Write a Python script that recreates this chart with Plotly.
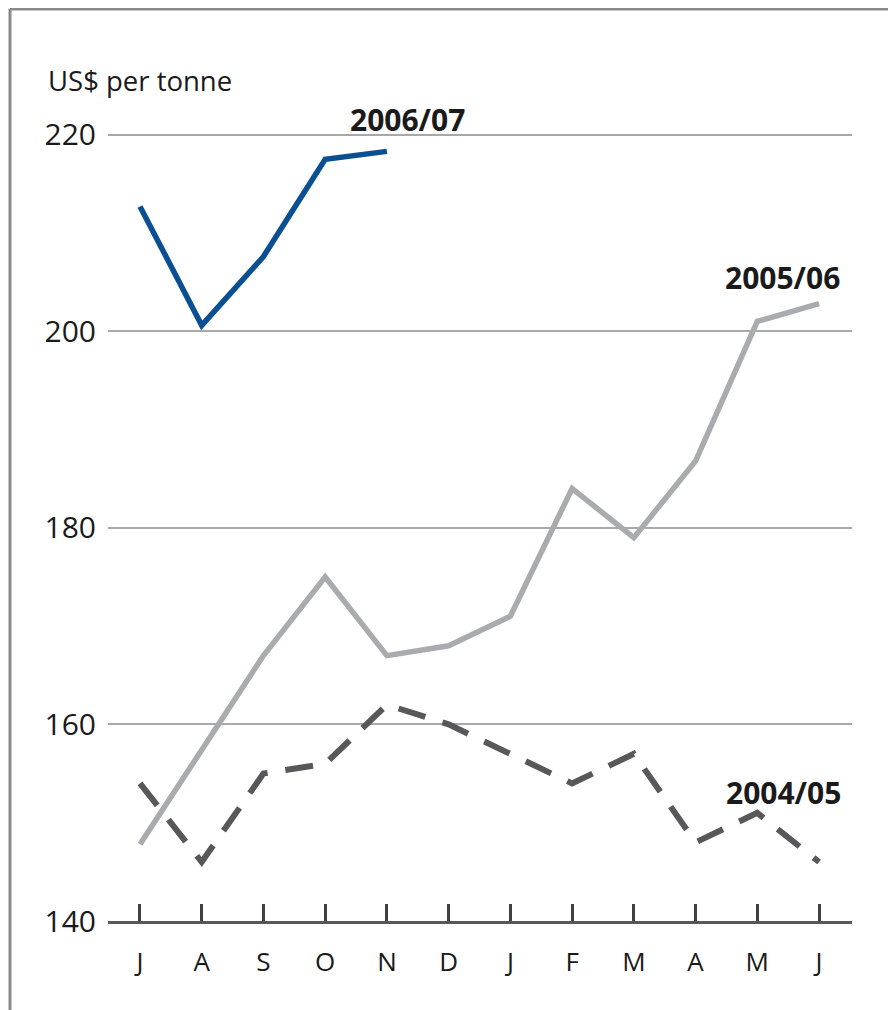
import plotly.graph_objects as go

months = ["J", "A", "S", "O", "N", "D", "J", "F", "M", "A", "M", "J"]
x_idx = list(range(len(months)))

s_2006_07 = [212.7, 200.6, 207.6, 217.5, 218.3]
s_2005_06 = [147.8, 157.4, 167.0, 175.0, 167.0, 168.0, 171.0, 184.0, 179.0, 186.8, 201.0, 202.8]
s_2004_05 = [154.0, 146.0, 155.0, 156.0, 162.0, 160.0, 157.0, 154.0, 157.0, 148.0, 151.0, 146.0]

y_ticks = [140, 160, 180, 200, 220]

FONT = "Open Sans"
TXT = "#1a1a1a"

# figure geometry (page has an 8px body margin)
W_FIG, H_FIG = 888, 1002
L, R, T, B = 100, 844, 107, 913
PW, PH = R - L, B - T


def px(xp):
    return (xp - 8 - L) / PW


def py(yp):
    return (B - (yp - 8)) / PH


fig = go.Figure()
fig.add_trace(go.Scatter(x=x_idx, y=s_2004_05, mode="lines",
                         line=dict(color="#58585a", width=6, dash="28px,18px"),
                         hoverinfo="skip", showlegend=False))
fig.add_trace(go.Scatter(x=x_idx, y=s_2005_06, mode="lines",
                         line=dict(color="#a9abae", width=5.5),
                         hoverinfo="skip", showlegend=False))
fig.add_trace(go.Scatter(x=x_idx[:len(s_2006_07)], y=s_2006_07, mode="lines",
                         line=dict(color="#0b4f93", width=5.5),
                         hoverinfo="skip", showlegend=False))

fig.update_layout(
    width=W_FIG, height=H_FIG,
    margin=dict(l=L, r=W_FIG - R, t=T, b=H_FIG - B, pad=0),
    paper_bgcolor="white", plot_bgcolor="white",
    font=dict(family=FONT, size=29, color=TXT),
    xaxis=dict(range=[-0.518, 11.534], tickmode="array", tickvals=x_idx, ticktext=months,
               showgrid=False, zeroline=False, showline=True, linecolor="#58585a", linewidth=3,
               ticks="inside", ticklen=17, tickwidth=3, tickcolor="#404040",
               tickfont=dict(size=26, color=TXT), ticklabelstandoff=16, fixedrange=True),
    yaxis=dict(range=[140, 222], tickmode="array", tickvals=y_ticks,
               showgrid=True, gridcolor="#a8a8a8", gridwidth=2, zeroline=False,
               showline=False, ticks="", tickfont=dict(size=30, color=TXT),
               ticklabelstandoff=11, fixedrange=True),
    shapes=[
        dict(type="line", xref="paper", yref="paper",
             x0=px(10), x1=px(10), y0=py(1012), y1=py(9),
             line=dict(color="#8a8a8a", width=3)),
        dict(type="line", xref="paper", yref="paper",
             x0=px(10), x1=px(898), y0=py(9), y1=py(9),
             line=dict(color="#8a8a8a", width=3)),
    ],
    annotations=[
        dict(text="US$ per tonne", xref="paper", yref="paper",
             x=px(46), y=py(80), xanchor="left", yanchor="middle",
             showarrow=False, font=dict(size=27.5, color=TXT)),
        dict(text="<b>2006/07</b>", x=4.34, y=221.5, xref="x", yref="y",
             showarrow=False, xanchor="center", yanchor="middle", font=dict(size=30, color=TXT)),
        dict(text="<b>2005/06</b>", x=10.4, y=205.5, xref="x", yref="y",
             showarrow=False, xanchor="center", yanchor="middle", font=dict(size=30, color=TXT)),
        dict(text="<b>2004/05</b>", x=10.43, y=153.1, xref="x", yref="y",
             showarrow=False, xanchor="center", yanchor="middle", font=dict(size=30, color=TXT)),
    ],
)

fig.write_html("out.html")
